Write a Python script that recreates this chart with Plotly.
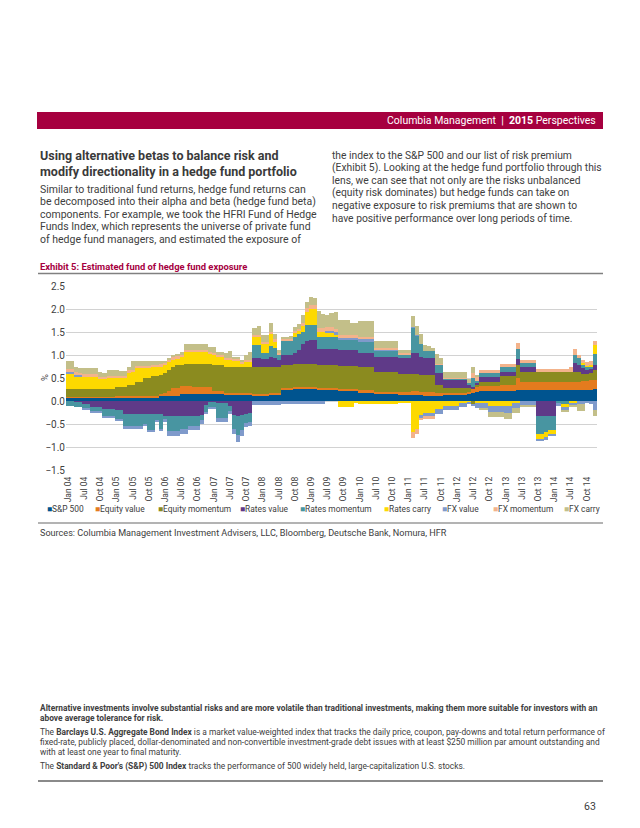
import plotly.graph_objects as go

# ---------------- data (monthly, Jan 2004 .. Nov 2014) ----------------
months = list(range(131))
tick_labels = ["Jan 04", "Jul 04", "Oct 04", "Jan 05", "Jul 05", "Oct 05", "Jan 06", "Jul 06",
               "Oct 06", "Jan 07", "Jul 07", "Oct 07", "Jan 08", "Jul 08", "Oct 08", "Jan 09",
               "Jul 09", "Oct 09", "Jan 10", "Jul 10", "Oct 10", "Jan 11", "Jul 11", "Oct 11",
               "Jan 12", "Jul 12", "Oct 12", "Jan 13", "Jul 13", "Oct 13", "Jan 14", "Jul 14",
               "Oct 14"]
tick_every = 4

sp500 = [
    .07, .07, .07, .07, .07, .07, .07, .07, .07, .07,
    .07, .07, .08, .08, .08, .08, .08, .08, .08, .08,
    .08, .08, .08, .10, .10, .10, .10, .10, .15, .15,
    .15, .15, .15, .15, .15, .15, .15, .15, .15, .14,
    .14, .14, .14, .14, .14, .14, .13, .13, .13, .13,
    .14, .14, .14, .25, .25, .25, .27, .27, .27, .27,
    .27, .27, .24, .24, .24, .24, .24, .22, .22, .22,
    .22, .22, .17, .17, .17, .17, .15, .15, .15, .15,
    .15, .15, .14, .14, .14, .14, .14, .12, .11, .11,
    .11, .11, .11, .13, .13, .13, .13, .13, .13, .15,
    .18, .19, .22, .22, .22, .22, .22, .22, .22, .22,
    .22, .25, .24, .24, .24, .24, .24, .24, .24, .24,
    .24, .24, .24, .24, .24, .25, .25, .25, .25, .25,
    .27]
equity_value = [
    .02, .02, .02, .02, .02, .02, .02, .02, .02, .02,
    .02, .02, .02, .02, .02, .03, .03, .03, .03, .03,
    .03, .03, .03, .06, .08, .12, .18, .18, .18, .18,
    .18, .15, .15, .15, .15, .15, .07, .07, .07, .04,
    .04, .04, .04, .04, .04, .04, .03, .03, .03, .03,
    .03, .03, .03, .04, .04, .04, .03, .03, .03, .03,
    .03, .03, .04, .04, .04, .04, .04, .05, .05, .05,
    .05, .05, .06, .06, .06, .06, .05, .05, .05, .05,
    .05, .05, .06, .06, .06, .07, .07, .07, .08, .08,
    .08, .06, .06, .05, .05, .05, .05, .05, .05, .05,
    .08, .12, .10, .10, .10, .10, .10, .13, .13, .13,
    .13, .25, .17, .17, .17, .17, .18, .18, .18, .18,
    .18, .18, .18, .18, .18, .17, .17, .18, .18, .20,
    .19]
equity_momentum = [
    .18, .18, .18, .18, .18, .18, .18, .18, .18, .18,
    .18, .18, .20, .20, .20, .24, .24, .31, .31, .39,
    .39, .44, .44, .41, .42, .46, .47, .50, .45, .47,
    .47, .50, .50, .50, .50, .50, .56, .56, .56, .56,
    .56, .56, .56, .55, .55, .55, .58, .58, .58, .58,
    .58, .58, .56, .50, .50, .50, .50, .50, .50, .50,
    .50, .50, .50, .50, .50, .50, .50, .50, .50, .50,
    .50, .50, .50, .50, .50, .50, .42, .42, .42, .42,
    .42, .42, .38, .38, .38, .38, .38, .38, .38, .38,
    .38, .18, .18, .10, .10, .10, .10, .10, .10, .08,
    -.08, .05, .10, .10, .10, .10, .10, .20, .20, .20,
    .20, .28, .22, .22, .22, .22, .22, .22, .22, .22,
    .22, .22, .22, .22, .22, .22, .22, .16, .15, .15,
    .21]
rates_value = [
    -.01, -.01, -.03, -.03, -.06, -.06, -.12, -.12, -.12, -.18,
    -.18, -.18, -.20, -.20, -.28, -.28, -.28, -.28, -.28, -.28,
    -.28, -.28, -.28, -.28, -.33, -.33, -.33, -.33, -.33, -.33,
    -.32, -.32, -.32, -.30, -.08, -.03, -.03, -.05, -.05, -.05,
    -.10, -.30, -.32, -.30, -.28, -.25, .20, .20, .18, .18,
    .20, .18, .17, .22, .22, .22, .25, .30, .45, .50,
    .52, .52, .35, .35, .35, .35, .35, .33, .33, .33,
    .33, .33, .32, .32, .32, .32, .33, .33, .33, .33,
    .33, .33, .35, .35, .35, .45, .45, .38, .36, .36,
    .36, .26, .26, .18, .18, .18, .18, .18, .18, .08,
    .05, .04, .10, .10, .10, .10, .10, .08, .08, .08,
    .08, .13, .11, .11, .11, .11, -.32, -.32, -.32, -.32,
    -.32, 0, 0, 0, 0, .18, .15, .12, .10, .10,
    .11]
rates_momentum = [
    -.10, -.10, -.11, -.11, -.11, -.11, -.11, -.11, -.11, -.15,
    -.15, -.15, -.20, -.20, -.28, -.28, -.28, -.28, -.28, -.22,
    -.35, -.35, -.13, -.32, -.07, -.32, -.32, -.32, -.28, -.28,
    -.22, -.22, -.22, -.12, -.15, -.10, -.10, -.32, -.32, -.32,
    -.12, -.31, -.42, -.33, -.20, -.20, .28, .28, .13, .13,
    .25, .22, .12, .30, .30, .30, .35, .35, .25, .35,
    .33, .33, .27, .27, .27, .27, .27, .23, .23, .23,
    .23, .23, .25, .25, .25, .25, .15, .15, .15, .15,
    .15, .15, .07, .07, .07, .55, .38, .30, .15, .15,
    .15, .18, .18, .03, .03, .03, .03, .03, .03, .04,
    .20, .03, .08, .08, .08, .08, .08, .10, .10, .10,
    .10, .22, .08, .08, .08, .08, -.39, -.39, -.36, -.30,
    -.30, -.05, -.06, -.06, 0, .18, .14, .08, .06, .06,
    .25]
rates_carry = [
    .32, .32, .26, .26, .26, .26, .26, .26, .22, .22,
    .22, .22, .20, .20, .20, .28, .28, .30, .30, .22,
    .22, .18, .18, .18, .18, .17, .15, .14, .18, .26,
    .26, .26, .26, .26, .26, .22, .22, .18, .18, .15,
    .15, .12, .12, .08, .12, .12, .18, .18, .20, .20,
    .25, .15, 0, 0, 0, 0, .08, .07, .12, .28,
    .35, .35, .10, .10, .08, .08, .05, -.13, -.13, -.13,
    -.13, -.05, -.06, -.06, -.06, -.06, -.07, -.07, -.07, -.07,
    -.07, -.07, -.03, -.03, -.03, -.68, -.60, -.32, -.25, -.25,
    -.25, -.18, -.18, -.10, -.10, -.10, -.10, -.05, -.05, -.03,
    0, -.05, -.05, -.05, -.10, -.10, -.10, -.10, -.10, -.10,
    -.05, -.05, 0, 0, 0, 0, -.12, -.12, -.12, -.10,
    -.10, 0, -.08, -.08, -.04, -.04, 0, .03, .03, .03,
    .18]
fx_value = [
    .05, .05, .04, .03, -.02, -.02, -.03, -.03, -.03, -.03,
    -.03, -.03, -.03, -.03, -.04, -.04, -.04, -.04, -.04, -.04,
    -.05, -.05, -.05, -.05, -.06, -.10, -.10, -.10, -.10, -.10,
    -.10, -.10, -.10, -.08, -.06, -.05, -.05, -.08, -.08, -.08,
    -.07, -.10, -.15, -.12, -.09, -.10, -.08, -.08, -.08, -.08,
    -.08, -.08, -.08, -.06, -.06, -.06, -.06, -.06, -.06, -.06,
    -.06, -.06, -.06, -.06, .04, .04, .04, .04, .04, .04,
    .04, .04, .04, .04, .04, .04, .02, .02, .02, .02,
    .02, .02, .02, .02, .02, .02, .02, -.04, -.08, -.08,
    -.08, -.10, -.10, -.10, -.10, -.10, -.10, -.07, -.07, -.03,
    -.02, -.10, -.10, -.10, -.13, -.13, -.13, -.13, -.15, -.15,
    -.10, -.10, -.10, -.10, -.10, -.10, -.04, -.04, -.04, -.04,
    -.04, -.05, -.05, -.05, -.05, -.05, -.06, -.06, -.04, -.06,
    -.20]
fx_momentum = [
    .06, .06, .05, .05, .05, .05, .05, .05, .04, .04,
    .05, .05, .05, .05, .05, .04, .05, .05, .05, .05,
    .05, .05, .05, .05, .05, .05, .05, .05, .05, .05,
    .05, .05, .05, .05, .05, .05, .05, .05, .05, .05,
    .05, .05, .05, .04, .04, .04, .04, .04, .04, .04,
    .05, .04, .04, .04, .04, .04, .04, .05, .07, .09,
    .09, .09, .08, .08, .08, .08, .08, .07, .07, .07,
    .07, .07, .06, .06, .06, .06, .03, .03, .03, .03,
    .03, .03, .02, .02, .02, -.12, -.12, -.06, -.06, -.06,
    -.06, .02, .02, .02, .02, .02, .02, .02, .02, 0,
    .10, .10, .07, .07, .07, .07, .07, .07, .07, .07,
    .07, .13, .07, .07, .07, .07, .06, .06, .06, .06,
    .06, .06, .06, .06, .10, .13, .08, .08, .07, .09,
    .09]
fx_carry = [
    .16, .16, .13, .10, .13, .13, .13, .13, .11, .07,
    .13, .13, .12, .10, .10, .08, .19, .10, .10, .09,
    .09, .08, .08, .06, .04, .04, .05, .05, .05, .12,
    .12, .12, .12, .12, .12, .11, .13, .06, .06, .10,
    .15, .05, .05, .02, .11, .18, .14, .18, .15, .15,
    .19, .11, .04, .05, .05, .07, .08, .10, .17, .13,
    .18, .16, .38, .32, .28, .32, .37, .32, .32, .32,
    .25, .25, .35, .35, .35, .35, .15, .15, .15, .15,
    .15, .15, .06, .06, .06, .24, .18, .20, .14, .12,
    .07, .21, .13, .11, .11, .11, .11, .11, .11, .07,
    .14, .02, -.05, -.05, -.12, -.12, -.12, -.12, -.15, -.15,
    -.10, -.10, -.03, -.03, -.03, -.03, 0, 0, 0, 0,
    0, 0, -.05, -.05, -.05, -.05, -.15, -.15, 0, 0,
    -.12]

series_names = ["S&P 500", "Equity value", "Equity momentum", "Rates value", "Rates momentum",
                "Rates carry", "FX value", "FX momentum", "FX carry"]
series_values = [sp500, equity_value, equity_momentum, rates_value, rates_momentum,
                 rates_carry, fx_value, fx_momentum, fx_carry]
series_colors = ["#00548F", "#E47B1E", "#8B8B1F", "#5F3A88", "#4895A1",
                 "#FDD900", "#7F9ACB", "#F3B38B", "#C3BF89"]

for nm, vals in zip(series_names, series_values):
    if len(vals) != len(months):
        raise ValueError(f"{nm}: {len(vals)} values")

# ---------------- figure ----------------
# page coordinates (px) of the reference; the html body adds an 8px offset
OFF = 8
W, H = 640 - 2 * OFF, 828 - 2 * OFF
L, R, T, B = 66, 597, 286, 470          # plot area on the page
FONT = "Roboto, 'Liberation Sans', Arial, sans-serif"
TXT = "#404040"
CRIMSON = "#A6003F"


def px(x):
    return (x - L) / (R - L)


def py(y):
    return (B - y) / (B - T)


fig = go.Figure()
for nm, vals, col in zip(series_names, series_values, series_colors):
    fig.add_trace(go.Bar(x=months, y=vals, name=nm, marker_color=col,
                         marker_line_width=0, showlegend=False))

fig.update_layout(
    width=W, height=H, autosize=False,
    margin=dict(l=L - OFF, r=W - (R - OFF), t=T - OFF, b=H - (B - OFF), pad=0),
    paper_bgcolor="white", plot_bgcolor="white",
    barmode="relative", bargap=0,
    font=dict(family=FONT, color=TXT),
    xaxis=dict(range=[-0.5, 130.5], tickmode="array",
               tickvals=months[::tick_every], ticktext=tick_labels,
               tickangle=-90, tickfont=dict(size=8.5, color=TXT), ticklabelstandoff=4,
               showgrid=False, zeroline=False, showline=False, ticks=""),
    yaxis=dict(range=[-1.5, 2.5], dtick=0.5, tickformat=".1f",
               tickfont=dict(size=10, color=TXT), gridcolor="#D2D2D2",
               gridwidth=1, zeroline=False, showline=False, ticks=""),
)

shapes = []
annotations = []


def text(x, y, s, size, color=TXT, anchor="left", bold=False, angle=0):
    if bold:
        s = f"<b>{s}</b>"
    annotations.append(dict(x=px(x), y=py(y), xref="paper", yref="paper", text=s,
                            showarrow=False, xanchor=anchor, yanchor="middle",
                            font=dict(size=size, color=color, family=FONT),
                            textangle=angle))


def hline(y, x0, x1, color, width):
    shapes.append(dict(type="line", xref="paper", yref="paper", x0=px(x0), x1=px(x1),
                       y0=py(y), y1=py(y), line=dict(color=color, width=width)))


# header band
shapes.append(dict(type="rect", xref="paper", yref="paper", x0=px(37), x1=px(603),
                   y0=py(129), y1=py(112), fillcolor=CRIMSON, line_width=0, layer="below"))
text(598, 120.5, "Columbia Management  |  <b>2015</b> Perspectives", 10.5, "white", "right")

# heading + body text
text(38, 155, "Using alternative betas to balance risk and", 12.5, "#3A3A3A", bold=True)
text(38, 171, "modify directionality in a hedge fund portfolio", 12.5, "#3A3A3A", bold=True)
left_col = ["Similar to traditional fund returns, hedge fund returns can",
            "be decomposed into their alpha and beta (hedge fund beta)",
            "components. For example, we took the HFRI Fund of Hedge",
            "Funds Index, which represents the universe of private fund",
            "of hedge fund managers, and estimated the exposure of"]
for k, line in enumerate(left_col):
    text(38, 189.3 + 12.45 * k, line, 10.5)
right_col = ["the index to the S&P 500 and our list of risk premium",
             "(Exhibit 5). Looking at the hedge fund portfolio through this",
             "lens, we can see that not only are the risks unbalanced",
             "(equity risk dominates) but hedge funds can take on",
             "negative exposure to risk premiums that are shown to",
             "have positive performance over long periods of time."]
for k, line in enumerate(right_col):
    text(330, 155 + 12.65 * k, line, 10.3)

# exhibit title
text(38, 266, "Exhibit 5: Estimated fund of hedge fund exposure", 9.4, CRIMSON, bold=True)
hline(273.5, 38, 603, "#808080", 1.5)

# y-axis unit
text(44, 378, "%", 9.5, TXT, "center", angle=-90)

# legend row
legend_x = [45, 93, 156, 238, 298, 382, 440, 491, 562]
for lx, nm, col in zip(legend_x, series_names, series_colors):
    text(lx, 509, f'<span style="color:{col}">■</span>{nm}', 8.4)
hline(523, 38, 603, "#9A9A9A", 1.5)
text(38, 533, "Sources: Columbia Management Investment Advisers, LLC, Bloomberg, Deutsche Bank, Nomura, HFR", 9.1)

# footer
FS = 8.4
text(38, 708, "Alternative investments involve substantial risks and are more volatile than traditional "
              "investments, making them more suitable for investors with an", FS, bold=True)
text(38, 718, "above average tolerance for risk.", FS, bold=True)
text(38, 732, "The <b>Barclays U.S. Aggregate Bond Index</b> is a market value-weighted index that tracks the "
              "daily price, coupon, pay-downs and total return performance of", FS)
text(38, 742, "fixed-rate, publicly placed, dollar-denominated and non-convertible investment-grade debt "
              "issues with at least $250 million par amount outstanding and", FS)
text(38, 752, "with at least one year to final maturity.", FS)
text(38, 766, "The <b>Standard &amp; Poor's (S&amp;P) 500 Index</b> tracks the performance of 500 widely held, "
              "large-capitalization U.S. stocks.", FS)
hline(781, 38, 603, "#8A8A8A", 2)
text(598, 806, "63", 10.5, TXT, "right")

fig.update_layout(shapes=shapes, annotations=annotations)
fig.write_html("out.html")
